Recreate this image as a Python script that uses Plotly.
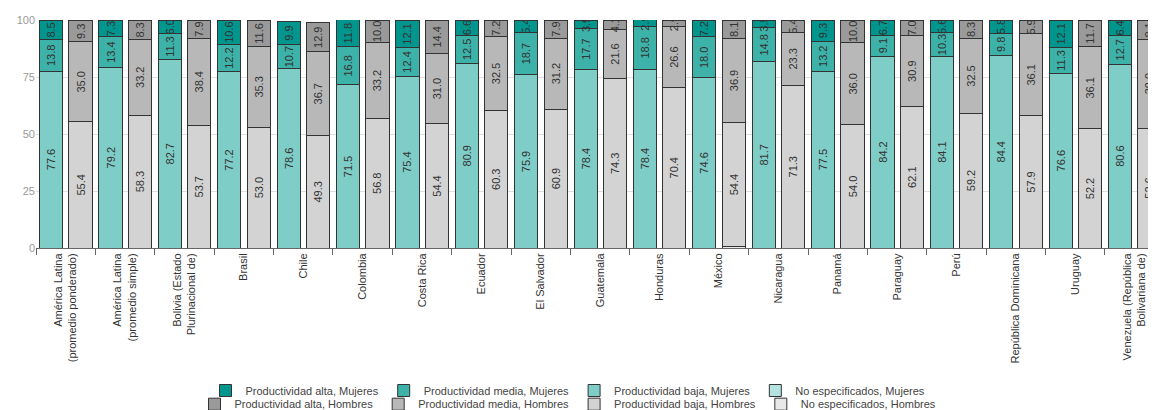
import plotly.graph_objects as go

categories = [
    "América Latina<br>(promedio ponderado)", "América Latina<br>(promedio simple)",
    "Bolivia (Estado<br>Plurinacional de)", "Brasil", "Chile", "Colombia", "Costa Rica",
    "Ecuador", "El Salvador", "Guatemala", "Honduras", "México", "Nicaragua", "Panamá",
    "Paraguay", "Perú", "República Dominicana", "Uruguay",
    "Venezuela (República<br>Bolivariana de)"
]

m_alta  = [8.5, 7.3, 6.0, 10.6, 9.9, 11.8, 12.1, 6.6, 5.4, 3.9, 2.9, 7.2, 3.5, 9.3, 6.7, 5.6, 5.8, 12.1, 6.4]
m_media = [13.8, 13.4, 11.3, 12.2, 10.7, 16.8, 12.4, 12.5, 18.7, 17.7, 18.8, 18.0, 14.8, 13.2, 9.1, 10.3, 9.8, 11.3, 12.7]
m_baja  = [77.6, 79.2, 82.7, 77.2, 78.6, 71.5, 75.4, 80.9, 75.9, 78.4, 78.4, 74.6, 81.7, 77.5, 84.2, 84.1, 84.4, 76.6, 80.6]
m_noesp = [0.0] * 19

h_alta  = [9.3, 8.3, 7.9, 11.6, 12.9, 10.0, 14.4, 7.2, 7.9, 4.1, 2.9, 8.1, 5.4, 10.0, 7.0, 8.3, 5.9, 11.7, 8.1]
h_media = [35.0, 33.2, 38.4, 35.3, 36.7, 33.2, 31.0, 32.5, 31.2, 21.6, 26.6, 36.9, 23.3, 36.0, 30.9, 32.5, 36.1, 36.1, 39.0]
h_baja  = [55.4, 58.3, 53.7, 53.0, 49.3, 56.8, 54.4, 60.3, 60.9, 74.3, 70.4, 54.4, 71.3, 54.0, 62.1, 59.2, 57.9, 52.2, 52.6]
h_noesp = [0.0, 0.0, 0.0, 0.0, 0.0, 0.0, 0.0, 0.0, 0.0, 0.0, 0.0, 0.6, 0.0, 0.0, 0.0, 0.0, 0.0, 0.0, 0.0]

idx = list(range(len(categories)))
xm = [i - 0.245 for i in idx]
xh = [i + 0.25 for i in idx]

FONT = "Liberation Sans, Arial, sans-serif"
fig = go.Figure()

def add(x, vals, name, color, legend, show_text=True):
    fig.add_trace(go.Bar(
        x=x, y=vals, name=name, width=0.39,
        marker=dict(color=color, line=dict(color="#333333", width=1)),
        text=[f"{v:.1f}" for v in vals] if show_text else None,
        textposition="inside" if show_text else "none",
        textangle=-90, insidetextanchor="middle",
        textfont=dict(family=FONT, size=11, color="#333333"),
        legend=legend, hoverinfo="y+name",
    ))

# stacking order bottom -> top
add(xm, m_noesp, "No especificados, Mujeres", "#b5e3df", "legend", False)
add(xm, m_baja, "Productividad baja, Mujeres", "#7fcdc7", "legend")
add(xm, m_media, "Productividad media, Mujeres", "#3db2a8", "legend")
add(xm, m_alta, "Productividad alta, Mujeres", "#00968e", "legend")
add(xh, h_noesp, "No especificados, Hombres", "#e8e8e8", "legend2", False)
add(xh, h_baja, "Productividad baja, Hombres", "#d3d3d3", "legend2")
add(xh, h_media, "Productividad media, Hombres", "#b8b8b8", "legend2")
add(xh, h_alta, "Productividad alta, Hombres", "#9a9a9a", "legend2")

fig.update_layout(
    barmode="stack",
    width=1148, height=402,
    margin=dict(l=28, r=0, t=12, b=162, autoexpand=False),
    paper_bgcolor="white", plot_bgcolor="white",
    font=dict(family=FONT, size=11, color="#333333"),
    uniformtext=dict(minsize=11, mode="show"),
    legend=dict(orientation="h", traceorder="reversed", x=0.475, xanchor="center",
                y=-0.625, yanchor="middle", font=dict(size=11, color="#444444"),
                itemwidth=30, tracegroupgap=0, bgcolor="rgba(0,0,0,0)"),
    legend2=dict(orientation="h", traceorder="reversed", x=0.475, xanchor="center",
                 y=-0.685, yanchor="middle", font=dict(size=11, color="#444444"),
                 itemwidth=30, tracegroupgap=0, bgcolor="rgba(0,0,0,0)"),
)
fig.update_xaxes(
    automargin=False,
    range=[-0.5, 18.36], tickmode="array", tickvals=idx, ticktext=categories,
    tickangle=-90, ticks="", showgrid=False, zeroline=False,
    showline=True, linecolor="#666666", linewidth=1,
    tickfont=dict(family=FONT, size=11, color="#333333"),
    minor=dict(ticks="outside", tick0=0.5, dtick=1, ticklen=6, tickcolor="#666666", showgrid=False),
)
fig.update_yaxes(
    automargin=False,
    range=[0, 100], tickvals=[0, 25, 50, 75, 100], showgrid=True, gridcolor="#e0e0e0",
    zeroline=False, tickfont=dict(family=FONT, size=11, color="#999999"), ticks="",
)

fig.write_html("out.html")
